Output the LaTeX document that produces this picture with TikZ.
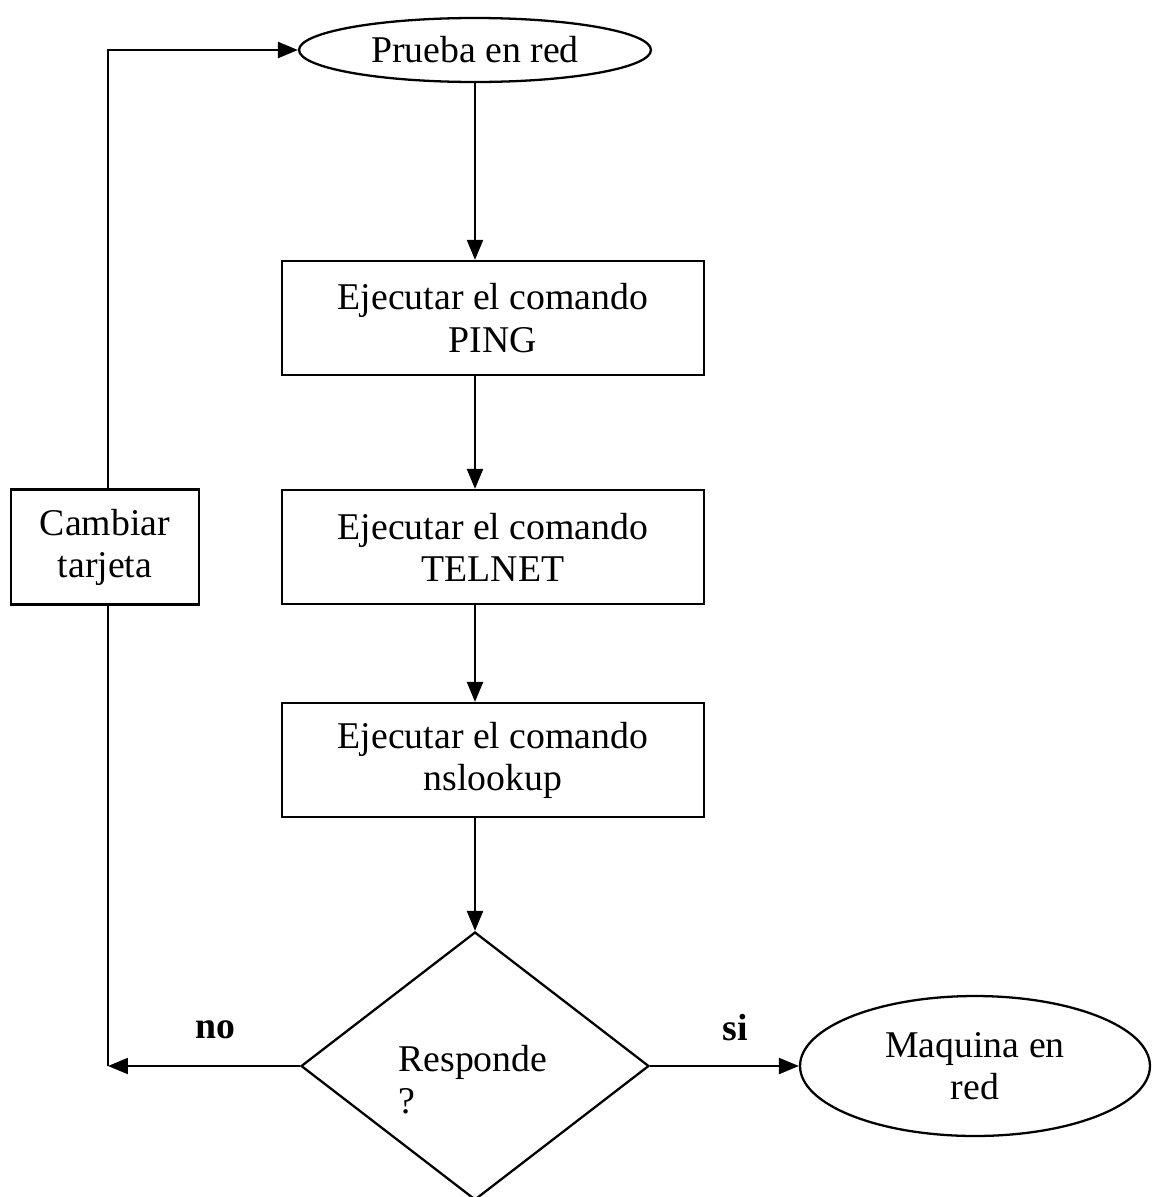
\documentclass[tikz,border=0pt]{standalone}
\usepackage{fontspec}
\setmainfont{Liberation Serif}
\usetikzlibrary{shapes.geometric,arrows.meta}
\begin{document}
\begin{tikzpicture}[x=0.02cm,y=-0.02cm,
  every node/.style={font=\fontsize{21.5}{24}\selectfont, inner sep=0pt, align=center},
  line/.style={line width=1.3pt},
  arr/.style={line, -{Triangle[length=0.4cm,width=0.32cm]}},
  procbox/.style={draw, line width=1.3pt, rectangle, minimum width=8.44cm, minimum height=2.28cm},
  term/.style={draw, line width=1.3pt, ellipse},
  decide/.style={draw, line width=1.3pt, diamond, minimum width=6.96cm, minimum height=5.36cm, align=left},
  lbl/.style={font=\fontsize{21.5}{24}\selectfont\bfseries}]
\useasboundingbox (0,0) rectangle (1154,1197);

% nodes
\node[term, minimum width=7.04cm, minimum height=1.28cm] (start) at (475,50) {Prueba en red};
\node[procbox] (ping) at (493,318) {Ejecutar el comando\\PING};
\node[procbox] (telnet) at (493,547) {Ejecutar el comando\\TELNET};
\node[procbox] (nslook) at (493,760) {Ejecutar el comando\\nslookup};
\node[decide] (dec) at (475,1066) {};
\node[anchor=west, align=left] (dectxt) at (398,1080) {Responde\\?};
\node[term, minimum width=7.0cm, minimum height=2.8cm] (end) at (975,1066) {Maquina en\\red};
\node[draw, line width=1.3pt, minimum width=3.76cm, minimum height=2.3cm] (swap) at (105,547) {Cambiar\\tarjeta};
\coordinate (back) at (108,1066);

% connectors
\draw[arr] (start.south) -- (start.south |- ping.north);
\draw[arr] (ping.south -| start.south) -- (telnet.north -| start.south);
\draw[arr] (telnet.south -| start.south) -- (nslook.north -| start.south);
\draw[arr] (nslook.south -| start.south) -- (dec.north);
\draw[arr] (dec.west) -- (back);
\draw[arr] (dec.east) -- (end.west);
\draw[line] (back) -- (back |- swap.south);
\draw[arr] (back |- swap.north) |- (start.west);

% branch labels
\node[lbl] (nolbl) at (215,1030) {no};
\node[lbl] (silbl) at (735,1028) {si};
\end{tikzpicture}
\end{document}
